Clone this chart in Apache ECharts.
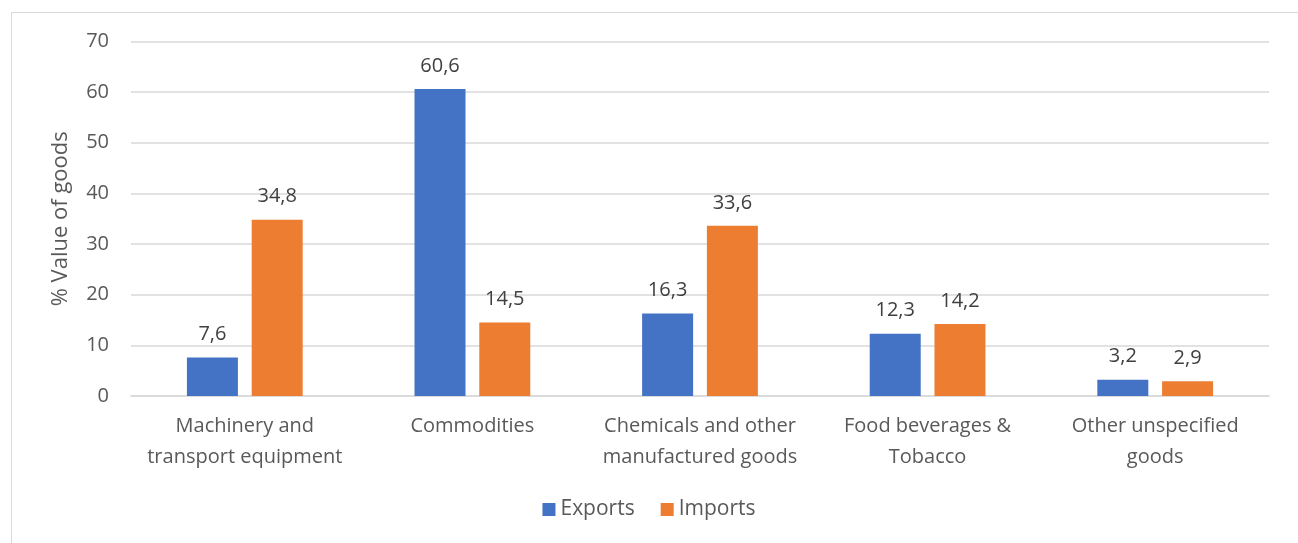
<!DOCTYPE html>
<html><head><meta charset="utf-8">
<script src="https://cdn.jsdelivr.net/npm/echarts@6/dist/echarts.min.js"></script>
<style>html,body{margin:0;padding:0;background:#fff;}#frame{position:absolute;left:11px;top:12px;width:1300px;height:560px;border:1.5px solid #d9d9d9;box-sizing:border-box;}#c{position:absolute;left:0;top:0;width:1298px;height:543px;}</style>
</head><body>
<div id="frame"></div>
<div id="c"></div>
<script>
var categories = ["Machinery and\ntransport equipment", "Commodities", "Chemicals and other\nmanufactured goods", "Food beverages &\nTobacco", "Other unspecified\ngoods"];
var exportsData = [7.6, 60.6, 16.3, 12.3, 3.2];
var importsData = [34.8, 14.5, 33.6, 14.2, 2.9];
var yTicks = [0, 10, 20, 30, 40, 50, 60, 70];

var chart = echarts.init(document.getElementById('c'), null, {renderer: 'canvas'});
var font = "'Open Sans', 'Liberation Sans', sans-serif";
var lbl = {show: true, position: 'top', distance: 13, color: '#404040', fontSize: 20, fontFamily: font,
  formatter: function(p){ return String(p.value).replace('.', ','); }};
chart.setOption({
  animation: false,
  grid: {left: 131, right: 29, top: 41.5, bottom: 147, containLabel: false},
  legend: {bottom: 18, left: 'center', itemWidth: 13, itemHeight: 13, itemGap: 26,
    icon: 'rect', textStyle: {color: '#595959', fontSize: 21, fontFamily: font}, data: ['Exports', 'Imports']},
  xAxis: {type: 'category', data: categories,
    axisLine: {lineStyle: {color: '#d9d9d9', width: 1.5}}, axisTick: {show: false},
    axisLabel: {color: '#595959', fontSize: 20, fontFamily: font, lineHeight: 31, margin: 15, interval: 0}},
  yAxis: {type: 'value', min: yTicks[0], max: yTicks[yTicks.length-1], interval: 10,
    name: '% Value of goods', nameLocation: 'middle', nameGap: 59, nameRotate: 90,
    nameTextStyle: {color: '#595959', fontSize: 22, fontFamily: font},
    axisLine: {show: false}, axisTick: {show: false},
    axisLabel: {color: '#595959', fontSize: 20, fontFamily: font, margin: 22},
    splitLine: {lineStyle: {color: '#d9d9d9', width: 1.5}}},
  series: [
    {name: 'Exports', type: 'bar', data: exportsData, barWidth: 51, barGap: '27%', itemStyle: {color: '#4472c4'}, label: lbl},
    {name: 'Imports', type: 'bar', data: importsData, barWidth: 51, barGap: '27%', itemStyle: {color: '#ed7d31'}, label: lbl}
  ]
});
</script>
</body></html>
